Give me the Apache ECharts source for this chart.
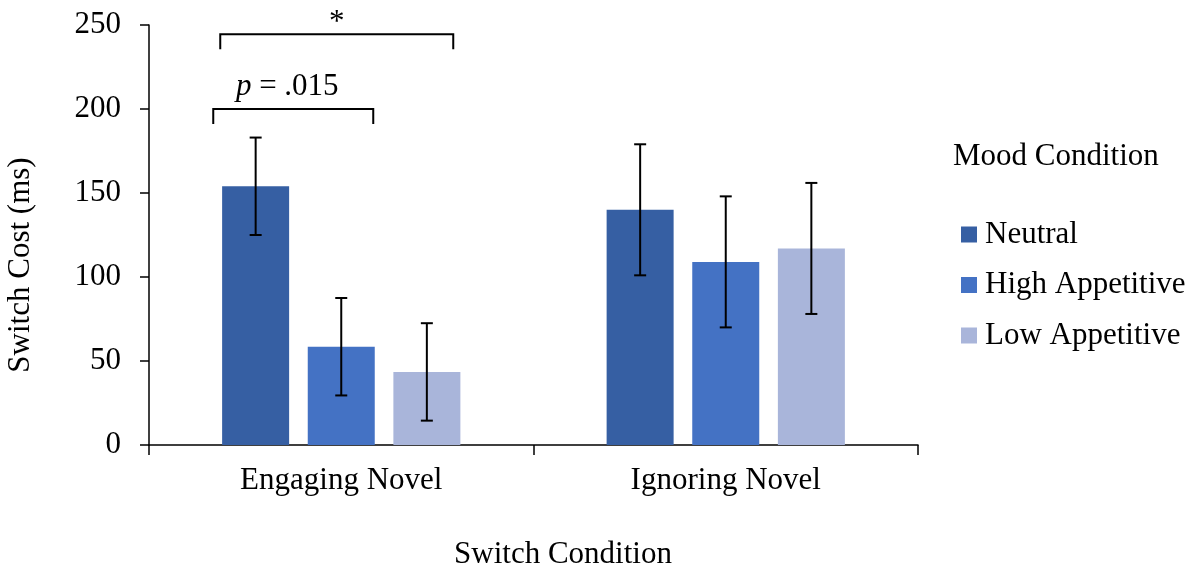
<!DOCTYPE html>
<html>
<head>
<meta charset="utf-8">
<script src="https://cdn.jsdelivr.net/npm/echarts@6/dist/echarts.min.js"></script>
<style>
html,body{margin:0;padding:0;background:#fff;}
#chart{width:1199px;height:570px;}
</style>
</head>
<body>
<div id="chart"></div>
<script>
// ---- data ----
const categories = ['Engaging Novel', 'Ignoring Novel'];
const seriesNames = ['Neutral', 'High Appetitive', 'Low Appetitive'];
const neutral = [154, 140];
const highAppetitive = [58.5, 109];
const lowAppetitive = [43.5, 117];
const neutralErr = [29, 39];
const highAppetitiveErr = [29, 39];
const lowAppetitiveErr = [29, 39];
const yMin = 0, yMax = 250, yInterval = 50;
// significance annotations (in Engaging Novel group): top value, end value, label
const bracketTop = [200, 244.5];
const bracketEnd = [191, 235.5];
const bracketLabels = ['{i|p} = .015', '*'];

// ---- style ----
const FONT = "'Liberation Serif', 'Times New Roman', serif";
const colors = ['#365FA3', '#4472C4', '#A9B5DA'];
const BAR_W = 67, BAR_GAP = 18.6;
const bracketX = [[-128, 32], [-121, 112]];
const labelDx = [-6, 0];
const labelDy = [-22, -11];

const values = [neutral, highAppetitive, lowAppetitive];
const errs = [neutralErr, highAppetitiveErr, lowAppetitiveErr];

const errData = [];
values.forEach((vals, s) => vals.forEach((v, c) => errData.push([c, v, errs[s][c], s])));
const bracketData = bracketTop.map((t, i) => [0, t, bracketEnd[i], i]);

const chart = echarts.init(document.getElementById('chart'), null, {renderer: 'canvas'});
const option = {
  animation: false,
  backgroundColor: '#fff',
  textStyle: {fontFamily: FONT, color: '#000'},
  grid: {left: 149, right: 281, top: 25, bottom: 125, containLabel: false},
  legend: {
    data: seriesNames,
    orient: 'vertical',
    left: 961, top: 219,
    padding: 0,
    itemWidth: 16, itemHeight: 16, itemGap: 19.5,
    icon: 'rect',
    textStyle: {fontFamily: FONT, fontSize: 31, color: '#000', lineHeight: 31, padding: [0, 0, 0, 3]}
  },
  graphic: [
    {type: 'text', left: 953, top: 141, style: {text: 'Mood Condition', font: '31px ' + FONT, fill: '#000'}},
    {type: 'text', x: 563, y: 555, style: {text: 'Switch Condition', font: '31px ' + FONT, fill: '#000', align: 'center', verticalAlign: 'middle'}},
    {type: 'text', x: 21, y: 265, rotation: Math.PI / 2, style: {text: 'Switch Cost (ms)', font: '31px ' + FONT, fill: '#000', align: 'center', verticalAlign: 'middle'}}
  ],
  xAxis: {
    type: 'category',
    data: categories,
    axisLine: {lineStyle: {color: '#000', width: 1.5}},
    axisTick: {show: true, length: 10, lineStyle: {color: '#000', width: 1.5}},
    axisLabel: {fontFamily: FONT, fontSize: 31, color: '#000', margin: 20}
  },
  yAxis: {
    type: 'value',
    min: yMin, max: yMax, interval: yInterval,
    splitLine: {show: false},
    axisLine: {show: true, lineStyle: {color: '#000', width: 1.5}},
    axisTick: {show: true, length: 9, lineStyle: {color: '#000', width: 1.5}},
    axisLabel: {fontFamily: FONT, fontSize: 31, color: '#000', margin: 28}
  },
  series: [
    ...seriesNames.map((name, s) => ({
      name, type: 'bar', data: values[s], barWidth: BAR_W, barGap: (BAR_GAP / BAR_W * 100).toFixed(1) + '%',
      itemStyle: {color: colors[s]}
    })),
    {
      type: 'custom', name: 'errors', data: errData, z: 10, silent: true,
      renderItem: function (params, api) {
        const c = api.value(0), v = api.value(1), e = api.value(2), s = api.value(3);
        const top = api.coord([c, v + e]);
        const bot = api.coord([c, v - e]);
        const x = top[0] + (s - 1) * (BAR_W + BAR_GAP);
        const st = {stroke: '#000', lineWidth: 2};
        return {type: 'group', children: [
          {type: 'line', shape: {x1: x, y1: top[1], x2: x, y2: bot[1]}, style: st},
          {type: 'line', shape: {x1: x - 6, y1: top[1], x2: x + 6, y2: top[1]}, style: st},
          {type: 'line', shape: {x1: x - 6, y1: bot[1], x2: x + 6, y2: bot[1]}, style: st}
        ]};
      }
    },
    {
      type: 'custom', name: 'brackets', data: bracketData, z: 10, silent: true,
      renderItem: function (params, api) {
        const c = api.value(0), t = api.value(1), e = api.value(2), i = api.value(3);
        const pt = api.coord([c, t]);
        const pe = api.coord([c, e]);
        const x1 = pt[0] + bracketX[i][0], x2 = pt[0] + bracketX[i][1];
        return {type: 'group', children: [
          {type: 'polyline', shape: {points: [[x1, pe[1]], [x1, pt[1]], [x2, pt[1]], [x2, pe[1]]]},
           style: {stroke: '#000', lineWidth: 2, fill: null}},
          {type: 'text', x: (x1 + x2) / 2 + labelDx[i], y: pt[1] + labelDy[i],
           style: {text: bracketLabels[i], font: '31px ' + FONT, fill: '#000', align: 'center', verticalAlign: 'middle',
             rich: {i: {fontStyle: 'italic', fontFamily: FONT, fontSize: 31}}}}
        ]};
      }
    }
  ]
};
chart.setOption(option);
</script>
</body>
</html>
